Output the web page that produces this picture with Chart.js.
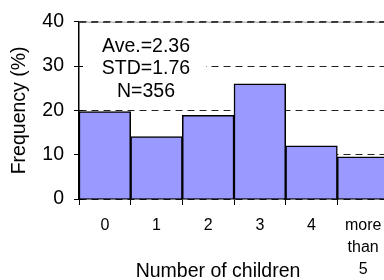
<!DOCTYPE html>
<html lang="en">
<head>
  <meta charset="UTF-8">
  <title>Number of children</title>
  <script src="https://cdn.jsdelivr.net/npm/chart.js"></script>
  <style>
    html, body { margin: 0; padding: 0; background: #fff; overflow: hidden; }
    #wrap { width: 384px; height: 280px; overflow: hidden; }
  </style>
</head>
<body>
  <div id="wrap">
    <canvas id="childChart" width="392" height="280"></canvas>
  </div>

  <script>
    const categories = ['0', '1', '2', '3', '4', ['more', 'than', '5']];
    const frequency = [19.7, 14.1, 18.9, 26.0, 12.0, 9.5];
    const yTicks = [0, 10, 20, 30, 40];
    const statsLines = ['Ave.=2.36', 'STD=1.76', 'N=356'];
    const xTitle = 'Number of children';
    const yTitle = 'Frequency (%)';

    const font = 'Liberation Sans, Arial, sans-serif';

    // white box with the summary numbers, drawn over the grid but under the bars
    const statsBox = {
      id: 'statsBox',
      beforeDatasetsDraw(chart) {
        const { ctx, chartArea, scales } = chart;
        ctx.save();
        // plot frame along the top: grey solid under the dashed grid line
        ctx.strokeStyle = '#999';
        ctx.lineWidth = 1;
        ctx.beginPath();
        ctx.moveTo(chartArea.left, chartArea.top + 0.5);
        ctx.lineTo(chartArea.right, chartArea.top + 0.5);
        ctx.stroke();
        ctx.strokeStyle = '#111';
        ctx.setLineDash([7, 5]);
        ctx.beginPath();
        ctx.moveTo(chartArea.left, chartArea.top + 0.5);
        ctx.lineTo(chartArea.right, chartArea.top + 0.5);
        ctx.stroke();
        ctx.setLineDash([]);

        ctx.fillStyle = '#fff';
        ctx.fillRect(chartArea.left + 1, chartArea.top + 8, 126, 74);

        // the small tick marks also poke into the plot
        ctx.strokeStyle = '#000';
        ctx.beginPath();
        yTicks.slice(0, -1).forEach(v => {
          const y = Math.round(scales.y.getPixelForValue(v)) + 0.5;
          ctx.moveTo(chartArea.left, y);
          ctx.lineTo(chartArea.left + 4, y);
        });
        ctx.stroke();

        ctx.fillStyle = '#000';
        ctx.font = '19.5px ' + font;
        ctx.textAlign = 'center';
        ctx.textBaseline = 'alphabetic';
        statsLines.forEach((line, i) => {
          ctx.fillText(line, chartArea.left + 67, chartArea.top + 30 + i * 22.5);
        });
        ctx.restore();
      },
      afterDraw(chart) {
        const { ctx } = chart;
        ctx.save();
        ctx.fillStyle = '#000';
        ctx.font = '19.5px ' + font;
        ctx.textAlign = 'center';
        ctx.textBaseline = 'alphabetic';
        ctx.fillText(xTitle, 218, 277);
        ctx.restore();
      }
    };

    const ctx = document.getElementById('childChart').getContext('2d');
    new Chart(ctx, {
      type: 'bar',
      data: {
        labels: categories,
        datasets: [{
          data: frequency,
          backgroundColor: '#9999ff',
          borderColor: '#000',
          borderWidth: 1.5,
          categoryPercentage: 1,
          barPercentage: 1
        }]
      },
      options: {
        responsive: false,
        animation: false,
        events: [],
        layout: { padding: { top: 20, right: 3, left: 0, bottom: 0 } },
        plugins: {
          legend: { display: false },
          tooltip: { enabled: false }
        },
        scales: {
          x: {
            grid: {
              offset: true,
              drawOnChartArea: false,
              tickLength: 6,
              tickColor: '#000'
            },
            border: { color: '#000', width: 1.5 },
            ticks: {
              color: '#000',
              padding: 9,
              maxRotation: 0,
              autoSkip: false,
              font: { family: font, size: 16, lineHeight: 1.4 }
            },
            afterFit(scale) { scale.height = 81; }
          },
          y: {
            min: 0,
            max: 40,
            afterBuildTicks(scale) {
              scale.ticks = yTicks.map(v => ({ value: v }));
            },
            grid: {
              color: '#222',
              lineWidth: 1,
              tickLength: 5,
              tickColor: '#000',
              tickBorderDash: []
            },
            border: { color: '#000', width: 1.5, dash: [7, 5] },
            ticks: {
              color: '#000',
              padding: 10,
              font: { family: font, size: 19.5 }
            },
            title: {
              display: true,
              text: yTitle,
              color: '#000',
              padding: { top: 8, bottom: 0 },
              font: { family: font, size: 19.5 }
            },
            afterFit(scale) { scale.width = 79; }
          }
        }
      },
      plugins: [statsBox]
    });
  </script>
</body>
</html>
